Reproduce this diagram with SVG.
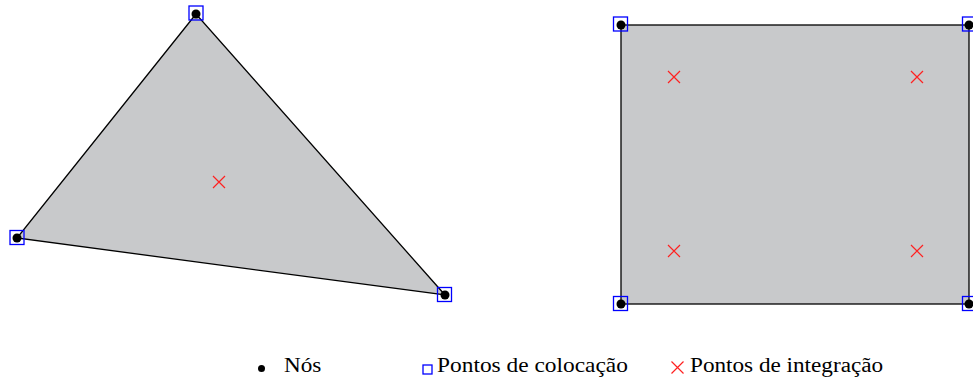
<svg xmlns="http://www.w3.org/2000/svg" width="973" height="380" viewBox="0 0 973 380">
<defs>
<style>
.elem{fill:#c8c9cb;stroke:#000;stroke-width:1.3}
.node{fill:#000}
.col{fill:none;stroke:#0000ff;stroke-width:1.3}
.int{stroke:#ff2020;stroke-width:1.2;fill:none}
.lbl{font-family:"Liberation Serif",serif;font-size:20px;fill:#000}
</style>
<g id="xmark"><path class="int" d="M-6,-6L6,6M-6,6L6,-6"/></g>
<rect id="sq" x="-7" y="-7" width="14" height="14" class="col"/>
</defs>
<g id="triangle">
<polygon class="elem" points="196,14 17,238 445,295"/>
<use href="#xmark" x="219" y="182"/>
</g>
<g id="rectangle">
<rect class="elem" x="621" y="25" width="348" height="279"/>
<use href="#xmark" x="674" y="77"/>
<use href="#xmark" x="917" y="77"/>
<use href="#xmark" x="674" y="251"/>
<use href="#xmark" x="917" y="251"/>
</g>
<g id="nodes">
<circle class="node" cx="196" cy="14" r="4.5"/>
<circle class="node" cx="17" cy="238" r="4.5"/>
<circle class="node" cx="445" cy="295" r="4.5"/>
<circle class="node" cx="621" cy="25" r="4.5"/>
<circle class="node" cx="969" cy="25" r="4.5"/>
<circle class="node" cx="621" cy="304" r="4.5"/>
<circle class="node" cx="969" cy="304" r="4.5"/>
<use href="#sq" x="196" y="13"/>
<use href="#sq" x="17" y="237.5"/>
<use href="#sq" x="444.5" y="294.5"/>
<use href="#sq" x="620.5" y="24"/>
<use href="#sq" x="969.5" y="24"/>
<use href="#sq" x="620.5" y="303.5"/>
<use href="#sq" x="969.5" y="303.5"/>
</g>
<g id="connectors"></g>
<g id="legend">
<circle class="node" cx="261.5" cy="368.5" r="3.5"/>
<text class="lbl" transform="translate(284,372) scale(1.16,1)">Nós</text>
<rect class="col" x="423" y="365" width="9" height="9"/>
<text class="lbl" transform="translate(437,372) scale(1.17,1)">Pontos de colocação</text>
<use href="#xmark" x="677.5" y="367.5"/>
<text class="lbl" transform="translate(690,372) scale(1.16,1)">Pontos de integração</text>
</g>
</svg>
